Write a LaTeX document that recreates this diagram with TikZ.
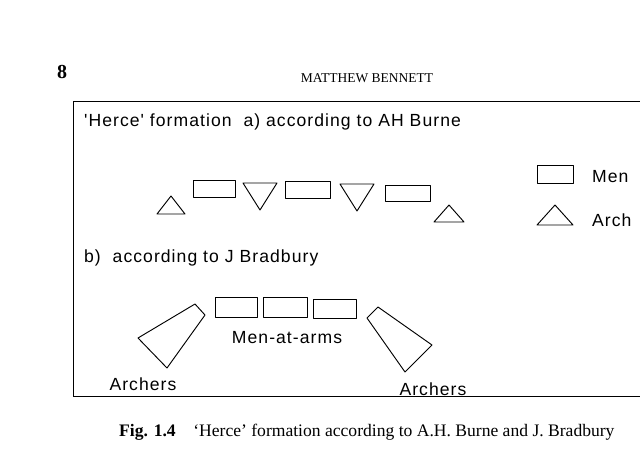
\documentclass[tikz,border=0pt]{standalone}
\usepackage{fontspec}
\setmainfont{Liberation Serif}
\newfontfamily\diagfont{Liberation Sans}[LetterSpace=6]
\usetikzlibrary{positioning}
\begin{document}
\begin{tikzpicture}[
  x=0.03cm, y=-0.03cm,
  unit/.style={draw, thick, line join=round},
  lbl/.style={font=\diagfont\fontsize{15}{17}\selectfont, anchor=west},
  tag/.style={font=\diagfont\fontsize{15}{17}\selectfont},
]
  \useasboundingbox (0,0) rectangle (640,468);
  % page head
  \node[font=\bfseries\fontsize{17}{19}\selectfont] (pageno) at (62,72) {8};
  \node[font=\fontsize{11.5}{13}\selectfont] (head) at (367,78) {MATTHEW BENNETT};
  % frame
  \draw[thick] (640,101) -- (73,101) -- (73,396) -- (640,396);

  % a) AH Burne
  \node[lbl] (titlea) at (80,122) {'Herce' formation\ \ a) according to AH Burne};
  \draw[unit] (157,214) -- (185,214) -- (171,196) -- cycle;
  \draw[unit] (193,180) rectangle (235,197);
  \draw[unit] (243,183) -- (277,183) -- (260,210) -- cycle;
  \draw[unit] (285,181) rectangle (330,198);
  \draw[unit] (340,184) -- (374,184) -- (357,211) -- cycle;
  \draw[unit] (385,185) rectangle (430,201);
  \draw[unit] (434,222) -- (464,222) -- (449,205) -- cycle;

  % key
  \draw[unit] (537,165) rectangle (573,183);
  \node[lbl] (keymen) at (588,177) {Men};
  \draw[unit] (537,225) -- (573,225) -- (555,205) -- cycle;
  \node[lbl] (keyarch) at (588,220) {Arch};

  % b) J Bradbury
  \node[lbl] (titleb) at (80,258) {b)\ \ according to J Bradbury};
  \draw[unit] (215,297) rectangle (257,317);
  \draw[unit] (263,297) rectangle (307,317);
  \draw[unit] (313,299) rectangle (356,318);
  \node[tag] (men) at (287,338) {Men-at-arms};
  \draw[unit] (138,338) -- (195,304) -- (205,315) -- (167,368) -- cycle;
  \draw[unit] (367,318) -- (378,307) -- (432,345) -- (405,372) -- cycle;
  \node[tag] (archl) at (143,384) {Archers};
  \node[tag] (archr) at (433,389) {Archers};

  % caption
  \node[anchor=west, font=\fontsize{15}{17}\selectfont] (caption) at (115,432)
    {\textbf{Fig. 1.4}\quad `Herce' formation according to A.H. Burne and J. Bradbury};
\end{tikzpicture}
\end{document}
